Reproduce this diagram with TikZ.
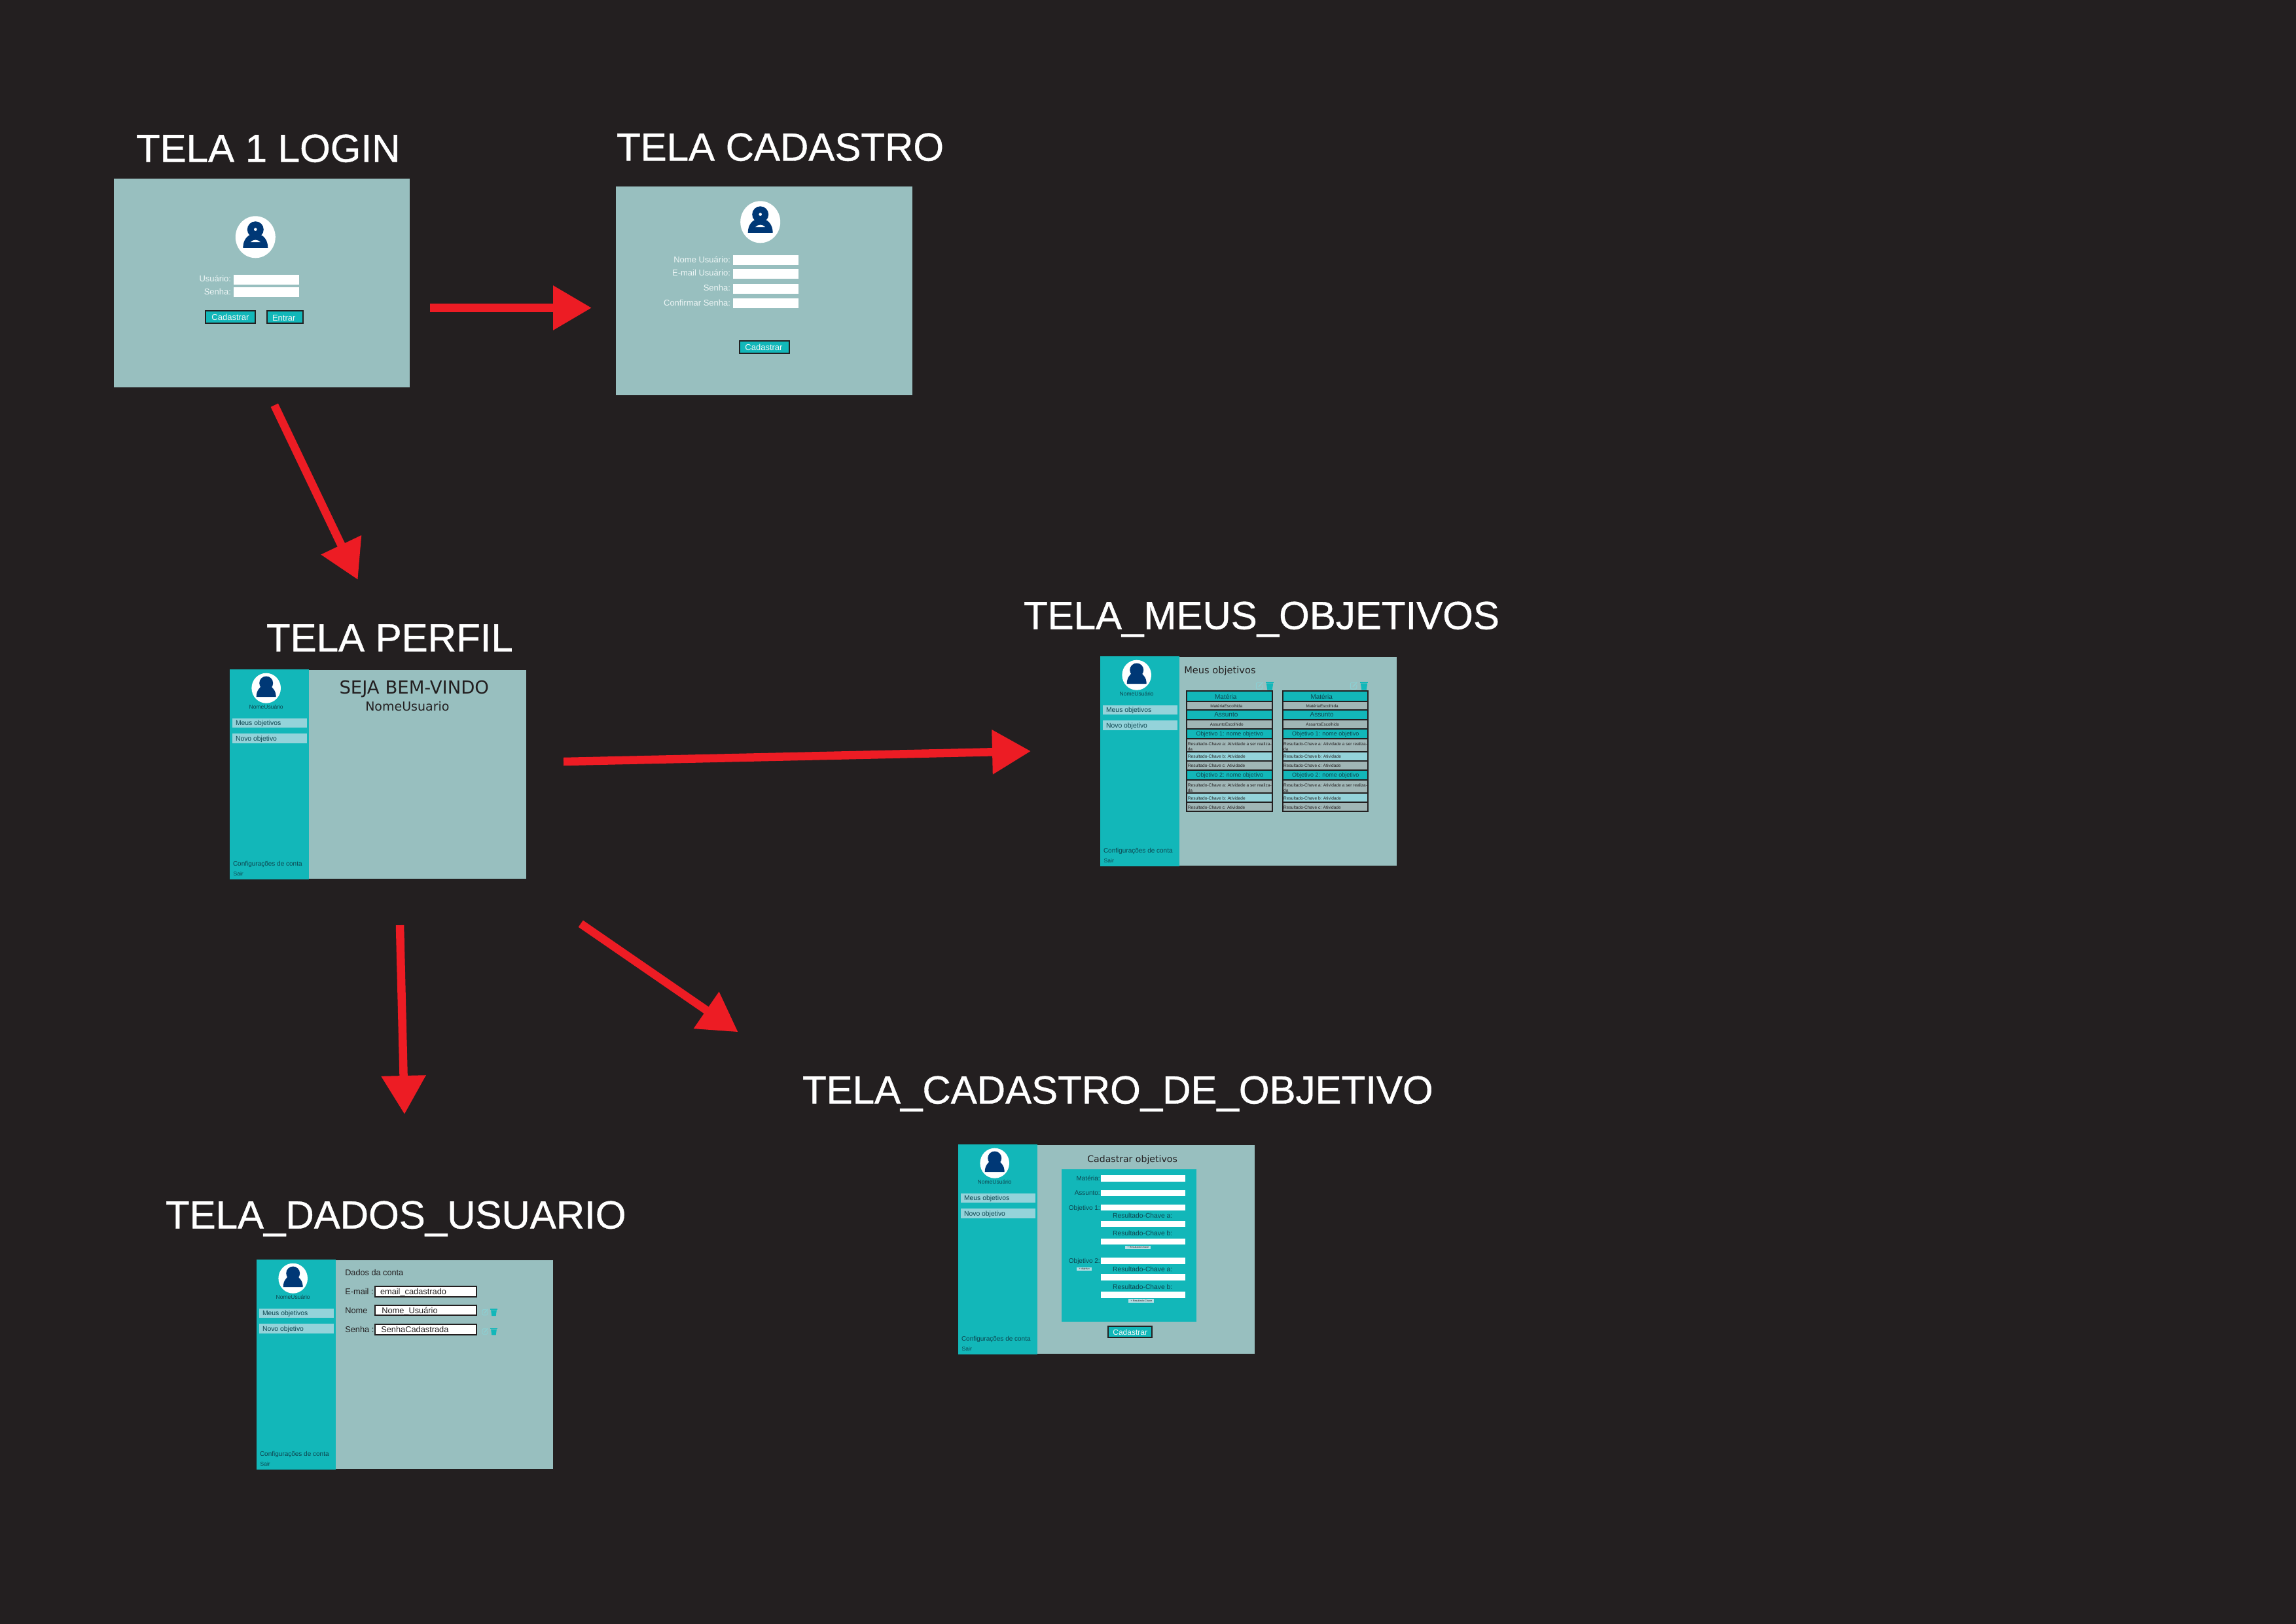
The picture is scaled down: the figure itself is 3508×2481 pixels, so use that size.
\documentclass[tikz,border=0pt]{standalone}
\usepackage{fontspec}
\setmainfont{Liberation Sans}
\newfontfamily\dvfont{DejaVu Sans}
\newfontfamily\titlefont[FakeBold=0.7]{Liberation Sans}
\usetikzlibrary{arrows.meta}
\definecolor{bgdark}{HTML}{231F20}
\definecolor{mainc}{HTML}{98BFBF}
\definecolor{tealc}{HTML}{12B7B9}
\definecolor{lightc}{HTML}{94D3DA}
\definecolor{navyc}{HTML}{003876}
\definecolor{redc}{HTML}{ED1C24}
\definecolor{inkc}{HTML}{0D4650}
\definecolor{grayrow}{HTML}{A0B6B6}
\definecolor{whitish}{HTML}{EEF6F6}
\definecolor{tinyc}{HTML}{B5DDE4}
\definecolor{editc}{HTML}{8CD0D3}
\newcounter{autoid}
\newcommand{\fsz}[1]{\fontsize{#1}{#1}\selectfont}
% text node: [opts]{x}{y}{size}{text}
\newcommand{\tx}[5][]{\stepcounter{autoid}\node[txt,#1] (t\arabic{autoid}) at (#2,#3) {\fsz{#4}#5};}
% box node: [opts]{x1}{y1}{x2}{y2}
\newcommand{\bx}[5][]{\stepcounter{autoid}\node[boxn,minimum width={(#4-(#2))*1pt},minimum height={(#5-(#3))*1pt},#1] (b\arabic{autoid}) at ({(#2+#4)/2},{(#3+#5)/2}) {};}
\newcommand{\bigavatar}[2]{\begin{scope}[shift={(#1,#2)}]
\fill[white] (0,0) ellipse [x radius=30.5,y radius=32];
\fill[navyc] (0,-11.5) circle (12.5);
\fill[navyc] (-19,16.5) .. controls (-19,4) and (-12,-2) .. (-7,-4) -- (7,-4) .. controls (12,-2) and (19,4) .. (19,16.5) -- cycle;
\fill[white] (0,-11.7) circle (2.3);
\fill[white] (-7.5,7.7) .. controls (-3,3.2) and (3,3.2) .. (7.5,7.7) -- cycle;
\end{scope}}
\newcommand{\iconpair}[3]{\begin{scope}[shift={(#1,#2)},scale=#3]
\draw[editc,line width=1pt,rounded corners=1.5] (9,1.5) -- (1,1.5) -- (1,11.3) -- (10.5,11.3) -- (10.5,5);
\draw[editc,line width=1.4pt] (4.5,8) -- (11,1);
\fill[tealc] (15.7,0) rectangle (27.7,1.8);
\fill[tealc] (16.5,2.6) -- (26.9,2.6) -- (25.5,12.8) -- (18,12.8) -- cycle;
\end{scope}}
% sidebar screen: {name}{x}{y}
\newcommand{\sidescreen}[3]{\node[boxn,fill=mainc,minimum width=332pt,minimum height=319pt] (#1main) at ({#2+121+166},{#3+160.5}) {};
\node[boxn,fill=tealc,minimum width=121pt,minimum height=321pt] (#1side) at ({#2+60.5},{#3+160.5}) {};
\begin{scope}[shift={(#2,#3)}]
\fill[white] (55.7,28.7) ellipse [x radius=22.3,y radius=23];
\fill[navyc] (55.7,21) circle (10.5);
\fill[navyc] (40.7,42) .. controls (40.7,32) and (46,28) .. (49,25) -- (62,25) .. controls (65,28) and (70.7,32) .. (70.7,42) -- cycle;
\tx[anchor=center]{55.7}{57.7}{8.5}{\color{inkc}NomeUsuário}
\bx[fill=lightc]{4}{75}{118}{89.3}
\tx[anchor=west]{9}{82.9}{10.4}{\color{inkc}Meus objetivos}
\bx[fill=lightc]{4}{98.3}{118}{113}
\tx[anchor=west]{9}{106.5}{10.4}{\color{inkc}Novo objetivo}
\tx{5}{300.5}{10}{\color{inkc}Configurações de conta}
\tx{5.7}{315}{8.5}{\color{inkc}Sair}
\end{scope}}
\newcommand{\rowtxt}[3]{\tx{#1}{#2}{6.6}{\color{bgdark}#3}}
% objective table, local coordinates
\newcommand{\objtable}[2]{\begin{scope}[shift={(#1,#2)}]
\bx[fill=bgdark]{0}{0}{132.7}{185.7}
\bx[fill=tealc]{2}{2}{130.7}{16}
\bx[fill=grayrow]{2}{18}{130.7}{28.7}
\bx[fill=tealc]{2}{30.7}{130.7}{44}
\bx[fill=grayrow]{2}{45.7}{130.7}{57.3}
\bx[fill=tealc]{2}{59.7}{130.7}{73}
\bx[fill=grayrow]{2}{74.7}{130.7}{92.3}
\bx[fill=lightc]{2}{94.7}{130.7}{106.3}
\bx[fill=grayrow]{2}{108.3}{130.7}{121}
\bx[fill=tealc]{2}{123}{130.7}{135.7}
\bx[fill=grayrow]{2}{137.7}{130.7}{155.7}
\bx[fill=lightc]{2}{157.7}{130.7}{169.7}
\bx[fill=grayrow]{2}{171.3}{130.7}{183.7}
\tx[anchor=center]{60.5}{10}{10}{\color{inkc}Matéria}
\tx[anchor=center]{61.5}{23.5}{6.4}{\color{bgdark}MatériaEscolhida}
\tx[anchor=center]{61}{37}{10}{\color{inkc}Assunto}
\tx[anchor=center]{62}{51.8}{6.4}{\color{bgdark}AssuntoEscolhido}
\tx[anchor=center]{66.5}{66.5}{9}{\color{inkc}Objetivo 1: nome objetivo}
\rowtxt{2.5}{84}{Resultado-Chave a: Atividade a ser realiza-}
\rowtxt{2.5}{92}{da}
\rowtxt{2.5}{103}{Resultado-Chave b: Atividade}
\rowtxt{2.5}{117.5}{Resultado-Chave c: Atividade}
\tx[anchor=center]{66.5}{129.5}{9}{\color{inkc}Objetivo 2: nome objetivo}
\rowtxt{2.5}{147}{Resultado-Chave a: Atividade a ser realiza-}
\rowtxt{2.5}{155}{da}
\rowtxt{2.5}{167}{Resultado-Chave b: Atividade}
\rowtxt{2.5}{181}{Resultado-Chave c: Atividade}
\end{scope}}
\newcommand{\fieldz}[2]{\bx[fill=white]{1681.7}{#1}{1810.7}{#2}}
\tikzset{
  txt/.style={anchor=base west,inner sep=0pt,outer sep=0pt,text=white},
  boxn/.style={rectangle,inner sep=0pt,outer sep=0pt,draw=none},
  btn/.style={fill=tealc,draw=bgdark,line width=2pt},
  flowarrow/.style={draw=redc,line width=12.5pt,-{Triangle[length=59pt,width=65pt]}},
  titletxt/.style={anchor=base west,font=\titlefont}
}
\begin{document}
\begin{tikzpicture}[x=1pt,y=-1pt]
\useasboundingbox (0,0) rectangle (3508,2481);
\fill[bgdark] (-10,-10) rectangle (3518,2491);
% titles
\tx[titletxt]{208}{247.5}{60}{TELA 1 LOGIN}
\tx[titletxt]{942}{245.5}{60}{TELA CADASTRO}
\tx[titletxt]{407}{995.5}{60}{TELA PERFIL}
\tx[titletxt]{1564}{961.5}{60}{TELA\_MEUS\_OBJETIVOS}
\tx[titletxt]{1226}{1686.5}{60}{TELA\_CADASTRO\_DE\_OBJETIVO}
\tx[titletxt]{253}{1877.5}{60}{TELA\_DADOS\_USUARIO}
% login
\node[boxn,fill=mainc,minimum width=452pt,minimum height=319pt] (login) at (400,432.5) {};
\bigavatar{390.3}{362.3}
\tx[anchor=base east]{353}{430}{13}{\color{whitish}Usuário:}
\tx[anchor=base east]{353}{450.7}{13}{\color{whitish}Senha:}
\bx[fill=white]{357}{420}{457.3}{435}
\bx[fill=white]{357}{439}{457.3}{453.7}
\bx[btn]{314.3}{475.3}{389.7}{494.3}
\tx[anchor=center]{352}{484.5}{13}{\color{whitish}Cadastrar}
\bx[btn]{408}{475.3}{463}{494.3}
\tx[anchor=center]{433.7}{486}{13}{\color{whitish}Entrar}
% cadastro
\node[boxn,fill=mainc,minimum width=453pt,minimum height=319pt] (cadastro) at (1167.5,444.5) {};
\bigavatar{1161.7}{339.3}
\tx[anchor=base east]{1116}{401}{13}{\color{whitish}Nome Usuário:}
\tx[anchor=base east]{1116}{421}{13}{\color{whitish}E-mail Usuário:}
\tx[anchor=base east]{1116}{444}{13}{\color{whitish}Senha:}
\tx[anchor=base east]{1116}{467.3}{13}{\color{whitish}Confirmar Senha:}
\bx[fill=white]{1120}{390}{1220}{405}
\bx[fill=white]{1120}{410.7}{1220}{425.7}
\bx[fill=white]{1120}{433.7}{1220}{448.7}
\bx[fill=white]{1120}{456}{1220}{471}
\bx[btn]{1130}{520.7}{1205.7}{540}
\tx[anchor=center]{1167}{530.5}{13}{\color{whitish}Cadastrar}
% perfil
\sidescreen{perfil}{351}{1023}
\tx[anchor=base,text=bgdark]{632.8}{1060.7}{27.5}{\dvfont SEJA BEM-VINDO}
\tx[anchor=base,text=bgdark]{622.4}{1086}{19}{\dvfont NomeUsuario}
% objetivos
\sidescreen{obj}{1681}{1003}
\tx[text=bgdark]{1809.3}{1029}{14.6}{\dvfont Meus objetivos}
\iconpair{1918.3}{1041.7}{1}
\iconpair{2062.3}{1041.7}{1}
\objtable{1812.3}{1055.3}
\objtable{1958.7}{1055.3}
% cadastro objetivo
\sidescreen{cad}{1464}{1749}
\tx[text=bgdark]{1661.3}{1776.7}{14.1}{\dvfont Cadastrar objetivos}
\bx[fill=tealc]{1622.3}{1787.3}{1828}{2020.3}
\fieldz{1796.3}{1806}
\fieldz{1818.7}{1828}
\fieldz{1840.7}{1850}
\fieldz{1866}{1875.3}
\fieldz{1892.7}{1902}
\fieldz{1922.3}{1931.7}
\fieldz{1947.3}{1956.7}
\fieldz{1974}{1983.7}
\tx[anchor=base east]{1680.7}{1804}{10}{\color{inkc}Matéria:}
\tx[anchor=base east]{1680.7}{1826}{10}{\color{inkc}Assunto:}
\tx[anchor=base east]{1680.7}{1849}{10}{\color{inkc}Objetivo 1:}
\tx[anchor=base east]{1680.7}{1930}{10}{\color{inkc}Objetivo 2:}
\tx[anchor=base]{1745.7}{1861}{10.3}{\color{inkc}Resultado-Chave a:}
\tx[anchor=base]{1745.7}{1888}{10.3}{\color{inkc}Resultado-Chave b:}
\tx[anchor=base]{1745.7}{1943}{10.3}{\color{inkc}Resultado-Chave a:}
\tx[anchor=base]{1745.7}{1970}{10.3}{\color{inkc}Resultado-Chave b:}
\bx[fill=tinyc]{1719.3}{1903.7}{1758.3}{1909.3}
\tx[anchor=center]{1738.8}{1906.5}{3.8}{\color{bgdark}+ Resultado-Chave}
\bx[fill=tinyc]{1724.3}{1985}{1763.3}{1990.7}
\tx[anchor=center]{1743.8}{1987.8}{3.8}{\color{bgdark}+ Resultado-Chave}
\bx[fill=tinyc]{1644.7}{1936.7}{1668.3}{1942.3}
\tx[anchor=center]{1656.5}{1939.5}{3.8}{\color{bgdark}+ objetivo}
\bx[btn]{1693.3}{2027.3}{1760}{2044}
\tx[anchor=center]{1726.7}{2036}{12}{\color{whitish}Cadastrar}
% dados
\sidescreen{dados}{392}{1925}
\tx[text=bgdark]{527.3}{1949}{12.7}{Dados da conta}
\tx[text=bgdark]{527.3}{1978}{12.8}{E-mail :}
\tx[text=bgdark]{527.3}{2007}{12.8}{Nome\ \ \ :}
\tx[text=bgdark]{527.3}{2036}{12.8}{Senha :}
\bx[fill=white,draw=bgdark,line width=2pt]{573.3}{1966}{727.7}{1981.7}
\bx[fill=white,draw=bgdark,line width=2pt]{573.3}{1994.7}{727.7}{2010.3}
\bx[fill=white,draw=bgdark,line width=2pt]{573.3}{2024}{727.7}{2039.7}
\tx[text=bgdark]{581}{1978}{12.8}{email\_cadastrado}
\tx[text=bgdark]{583.3}{2007}{12.8}{Nome\_Usuário}
\tx[text=bgdark]{582.3}{2036}{12.8}{SenhaCadastrada}
\iconpair{736}{2000.2}{.85}
\iconpair{736}{2029.5}{.85}
% arrows
\coordinate (a1s) at (657,470.5);
\coordinate (a1e) at (904,470.5);
\coordinate (a2s) at (419.3,619.3);
\coordinate (a2e) at (546.7,886);
\coordinate (a3s) at (861,1164);
\coordinate (a3e) at (1575,1148);
\coordinate (a4s) at (611,1414);
\coordinate (a4e) at (618,1703);
\coordinate (a5s) at (887.3,1411.7);
\coordinate (a5e) at (1127.7,1577.3);
\draw[flowarrow] (a1s) -- (a1e);
\draw[flowarrow] (a2s) -- (a2e);
\draw[flowarrow] (a3s) -- (a3e);
\draw[flowarrow] (a4s) -- (a4e);
\draw[flowarrow] (a5s) -- (a5e);
\end{tikzpicture}
\end{document}
